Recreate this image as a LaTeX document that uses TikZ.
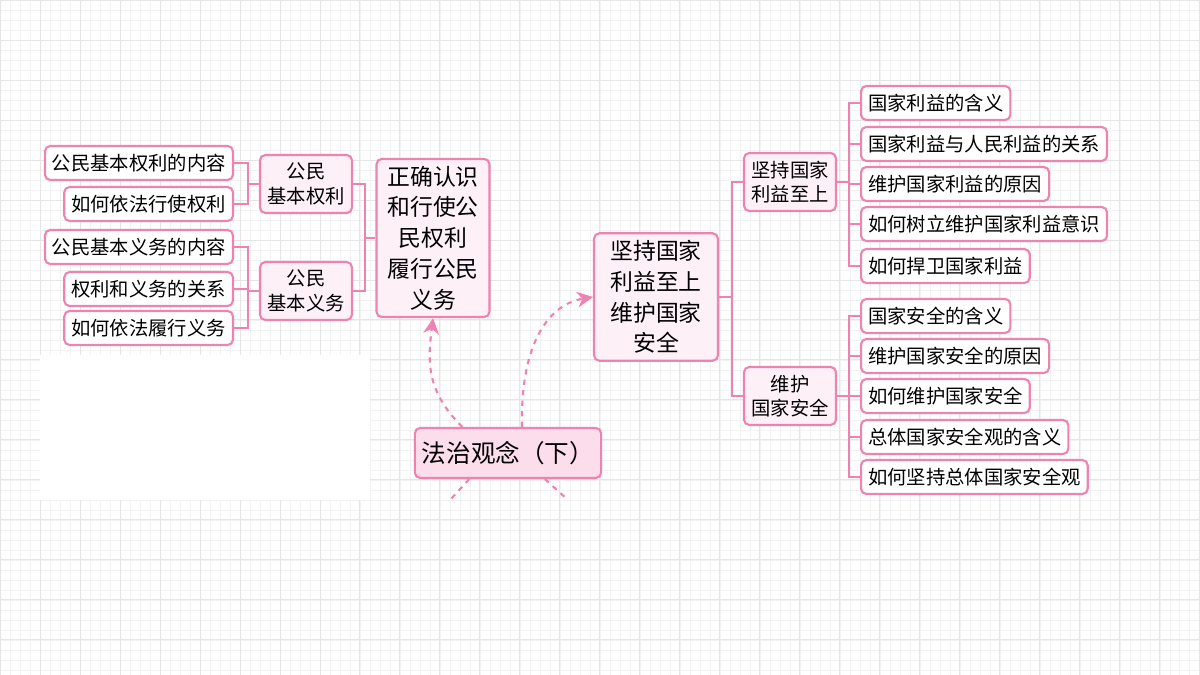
\documentclass[tikz,border=0pt]{standalone}
\usepackage{fontspec}
\setmainfont{Noto Sans CJK SC}
\usetikzlibrary{arrows.meta}
\definecolor{edgepink}{HTML}{EE82B0}
\definecolor{rootfill}{HTML}{FCDDEB}
\definecolor{mainfill}{HTML}{FDF0F6}
\tikzset{
  box/.style={draw=edgepink, line width=1.2pt, rounded corners=3pt, fill=white, inner sep=4pt, align=center, font=\fontsize{11}{14}\selectfont},
  leaf/.style={box, minimum height=0.68cm, anchor=west},
  sub/.style={box, fill=mainfill, minimum width=1.84cm, minimum height=1.16cm},
  link/.style={edgepink, line width=1.2pt},
  jump/.style={edgepink, line width=1.2pt, dash pattern=on 3pt off 3pt}
}
\begin{document}
\begin{tikzpicture}[x=0.02cm, y=-0.02cm]
  \useasboundingbox (0,0) rectangle (1200,675);
  \begin{scope}[x=1cm, y=1cm]
    \draw[gray!10, line width=0.3pt] (0,-13.5) grid[step=0.2] (24,0);
    \draw[gray!20, line width=0.5pt] (0,-13.5) grid[step=0.8] (24,0);
  \end{scope}
  \fill[white] (40,355) rectangle (370,500);

  % centre
  \node[box, fill=rootfill, minimum width=3.52cm, minimum height=1cm, font=\fontsize{14}{17}\selectfont] (root) at (508,453) {法治观念（下）};

  % left branch
  \node[box, fill=mainfill, minimum width=2.26cm, minimum height=3.02cm, font=\fontsize{13}{17.5}\selectfont] (rights) at (433,238) {正确认识\\和行使公\\民权利\\履行公民\\义务};
  \node[sub] (basicR) at (306,184) {公民\\基本权利};
  \node[sub] (basicD) at (306,291) {公民\\基本义务};
  \node[leaf, anchor=east] (r1) at (234,163) {公民基本权利的内容};
  \node[leaf, anchor=east] (r2) at (234,204) {如何依法行使权利};
  \node[leaf, anchor=east] (d1) at (234,247) {公民基本义务的内容};
  \node[leaf, anchor=east] (d2) at (234,289) {权利和义务的关系};
  \node[leaf, anchor=east] (d3) at (234,328) {如何依法履行义务};

  \foreach \a/\b in {r1/basicR, r2/basicR, d1/basicD, d2/basicD, d3/basicD}
    \draw[link] (\a.east) -- ++(14,0) |- (\b.west);
  \foreach \a in {basicR, basicD}
    \draw[link] (\a.east) -- ++(12,0) |- (rights.west);

  % right branch
  \node[box, fill=mainfill, minimum width=2.48cm, minimum height=2.46cm, font=\fontsize{13}{17.5}\selectfont] (safety) at (656,297) {坚持国家\\利益至上\\维护国家\\安全};
  \node[sub] (interest) at (790,182) {坚持国家\\利益至上};
  \node[sub] (secure) at (790,396) {维护\\国家安全};
  \foreach \n/\y/\t in {i1/103/国家利益的含义, i2/144/国家利益与人民利益的关系, i3/184/维护国家利益的原因, i4/224/如何树立维护国家利益意识, i5/266/如何捍卫国家利益}
  {
    \node[leaf] (\n) at (860,\y) {\t};
    \draw[link] (interest.east) -- ++(12,0) |- (\n.west);
  }
  \foreach \n/\y/\t in {s1/316/国家安全的含义, s2/356/维护国家安全的原因, s3/396/如何维护国家安全, s4/437/总体国家安全观的含义, s5/477/如何坚持总体国家安全观}
  {
    \node[leaf] (\n) at (860,\y) {\t};
    \draw[link] (secure.east) -- ++(12,0) |- (\n.west);
  }
  \foreach \a in {interest, secure}
    \draw[link] (safety.east) -- ++(13,0) |- (\a.west);

  % dashed jumps
  \draw[jump, -{Stealth[length=9pt,width=9pt]}] ([xshift=-26pt]root.north) .. controls (425,390) and (428,360) .. (rights.south);
  \draw[jump, -{Stealth[length=9pt,width=9pt]}] ([xshift=8pt]root.north) .. controls (520,350) and (545,305) .. (safety.west);
  \coordinate (downL) at (450,500);
  \coordinate (downR) at (568,500);
  \draw[jump] ([xshift=-22pt]root.south) -- (downL);
  \draw[jump] ([xshift=21pt]root.south) -- (downR);
\end{tikzpicture}
\end{document}
